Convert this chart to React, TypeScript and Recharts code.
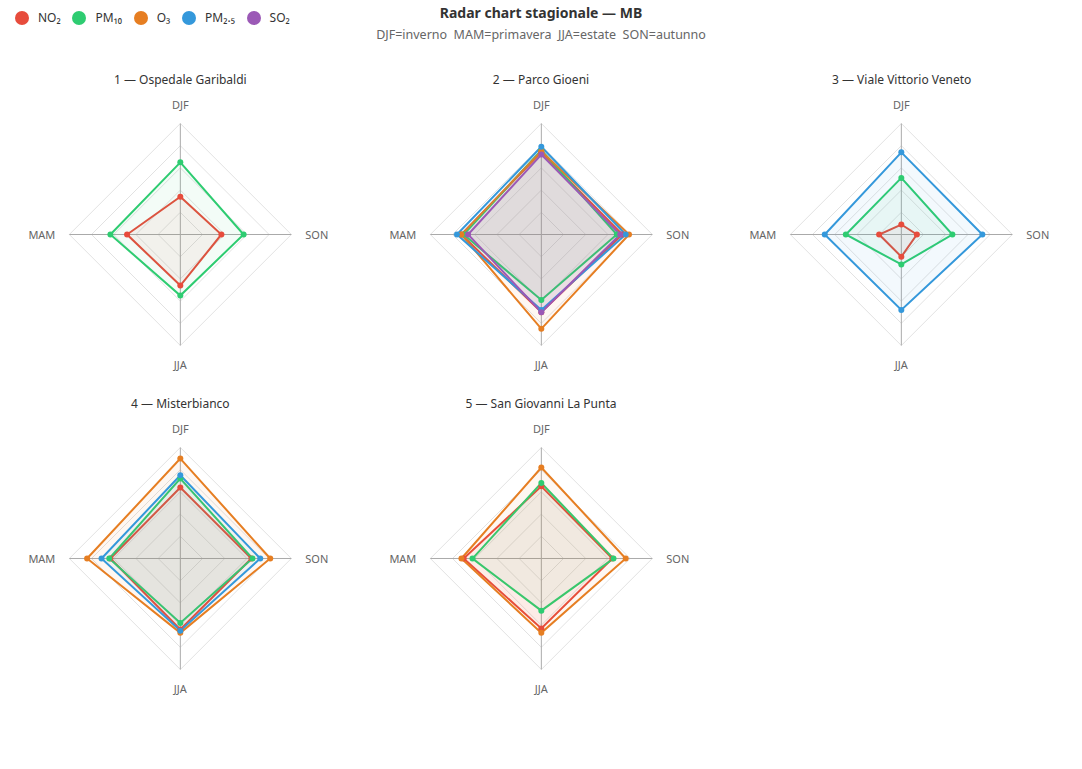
import React from "react";
import {
  RadarChart,
  Radar,
  PolarGrid,
  PolarAngleAxis,
  PolarRadiusAxis,
} from "recharts";

// seasons in clockwise order from the top
const SEASONS = ["DJF", "SON", "JJA", "MAM"];

const STATIONS = [
  "1 — Ospedale Garibaldi",
  "2 — Parco Gioeni",
  "3 — Viale Vittorio Veneto",
  "4 — Misterbianco",
  "5 — San Giovanni La Punta",
];

// values per station, order DJF, SON, JJA, MAM (null = not measured)
const NO2 = [
  [34, 37, 46, 48],
  [74, 73, 70, 72],
  [9, 14, 20, 20],
  [64, 64, 64, 63],
  [65, 64, 63, 70],
];
const PM10 = [
  [65, 57, 55, 63],
  [76, 68, 59, 70],
  [51, 46, 27, 50],
  [72, 65, 58, 64],
  [68, 65, 47, 62],
];
const O3 = [null, [75, 79, 85, 72], null, [90, 81, 67, 84], [82, 76, 67, 72]];
const PM25 = [null, [79, 76, 68, 76], [74, 73, 68, 69], [75, 72, 65, 71], null];
const SO2 = [null, [72, 71, 70, 66], null, null, null];

const SERIES = [
  { key: "NO2", label: "NO₂", color: "#e74c3c", values: NO2 },
  { key: "PM10", label: "PM₁₀", color: "#2ecc71", values: PM10 },
  { key: "O3", label: "O₃", color: "#e67e22", values: O3 },
  { key: "PM25", label: "PM₂.₅", color: "#3498db", values: PM25 },
  { key: "SO2", label: "SO₂", color: "#9b59b6", values: SO2 },
];

const FONT = "'Noto Sans', 'DejaVu Sans', sans-serif";
const CELL_W = 1082 / 3;
const CELL_H = 324;
const RADIUS = 111;

const AngleTick = ({ x, y, payload, textAnchor }: any) => {
  const a = (payload.coordinate * Math.PI) / 180;
  const ux = Math.cos(a);
  const uy = -Math.sin(a);
  return (
    <text
      x={x + ux * 6}
      y={y + uy * 11}
      textAnchor={textAnchor}
      dominantBaseline="central"
      fontSize={11}
      fill="#666"
      fontFamily={FONT}
    >
      {payload.value}
    </text>
  );
};

const StationRadar = ({ idx }: { idx: number }) => {
  const active = SERIES.filter((s) => s.values[idx]);
  const data = SEASONS.map((season, i) => {
    const row: any = { season };
    active.forEach((s) => (row[s.key] = (s.values[idx] as number[])[i]));
    return row;
  });
  const col = idx % 3;
  const rowIdx = Math.floor(idx / 3);
  const left = col * CELL_W;
  const top = 72 + rowIdx * CELL_H;
  return (
    <div style={{ position: "absolute", left, top, width: CELL_W, height: CELL_H }}>
      <div
        style={{
          position: "absolute",
          top: 0,
          width: "100%",
          textAlign: "center",
          fontSize: 12,
          color: "#333",
          lineHeight: "16px",
        }}
      >
        {STATIONS[idx]}
      </div>
      <RadarChart
        width={CELL_W}
        height={CELL_H}
        cx={CELL_W / 2}
        cy={162.5}
        outerRadius={RADIUS}
        data={data}
        margin={{ top: 0, right: 0, bottom: 0, left: 0 }}
      >
        <PolarGrid
          gridType="polygon"
          radialLines={false}
          polarRadius={[22.2, 44.4, 66.6, 88.8, 111]}
          stroke="#e2e2e2"
        />
        <PolarGrid gridType="polygon" polarRadius={[0.01]} stroke="#aaa" />
        <PolarAngleAxis dataKey="season" axisLine={false} tickLine={false} tick={<AngleTick />} />
        <PolarRadiusAxis domain={[0, 100]} tick={false} axisLine={false} angle={90} />
        {active.map((s) => (
          <Radar
            key={s.key}
            dataKey={s.key}
            name={s.label}
            stroke={s.color}
            strokeWidth={2}
            fill={s.color}
            fillOpacity={0.06}
            dot={(p: any) => (
              <circle key={`${s.key}-${p.index}`} cx={p.cx} cy={p.cy} r={3} fill={s.color} />
            )}
            isAnimationActive={false}
          />
        ))}
      </RadarChart>
    </div>
  );
};

export default function App() {
  return (
    <div
      style={{
        position: "absolute",
        left: 0,
        top: 0,
        width: 1082,
        height: 769,
        background: "#fff",
        fontFamily: FONT,
      }}
    >
      <div style={{ position: "absolute", left: 15, top: 10, display: "flex", alignItems: "center" }}>
        {SERIES.map((s) => (
          <div key={s.key} style={{ display: "flex", alignItems: "center", marginRight: 11.75 }}>
            <span
              style={{
                width: 14,
                height: 14,
                borderRadius: 7,
                background: s.color,
                display: "inline-block",
                marginRight: 9,
              }}
            />
            <span style={{ fontSize: 12, color: "#333", lineHeight: "16px" }}>{s.label}</span>
          </div>
        ))}
      </div>
      <div
        style={{
          position: "absolute",
          top: 4,
          left: 0,
          width: 1082,
          textAlign: "center",
          fontSize: 14,
          fontWeight: 700,
          color: "#333",
          lineHeight: "18px",
        }}
      >
        Radar chart stagionale — MB
      </div>
      <div
        style={{
          position: "absolute",
          top: 27,
          left: 0,
          width: 1082,
          textAlign: "center",
          fontSize: 12.5,
          color: "#666",
          lineHeight: "16px",
          whiteSpace: "pre",
        }}
      >
        {"DJF=inverno  MAM=primavera  JJA=estate  SON=autunno"}
      </div>
      {STATIONS.map((_, i) => (
        <StationRadar key={i} idx={i} />
      ))}
    </div>
  );
}
